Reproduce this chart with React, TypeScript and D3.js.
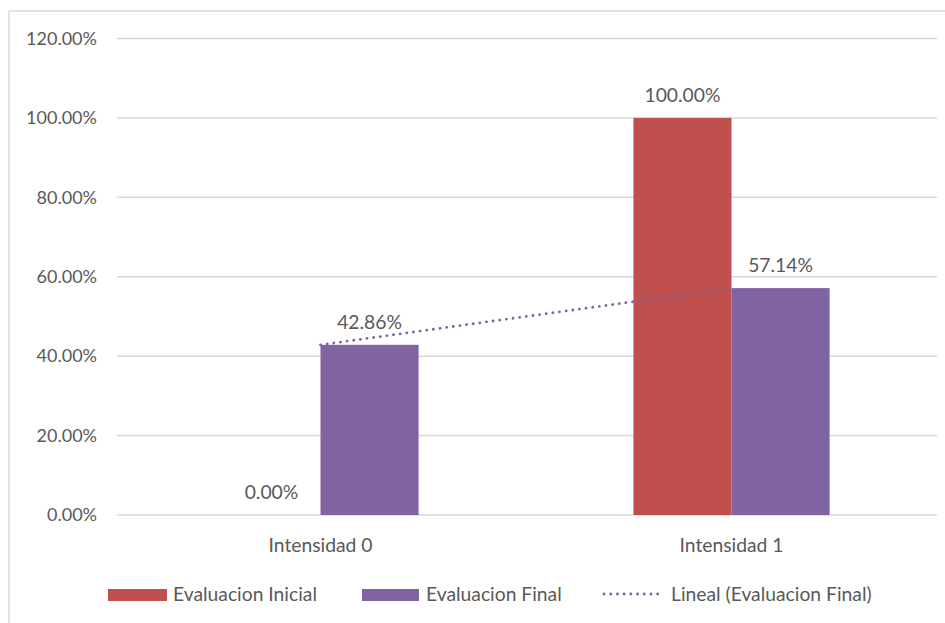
import React from "react";
import * as d3 from "d3";

// Chart data
const categories = ["Intensidad 0", "Intensidad 1"];
const seriesNames = ["Evaluacion Inicial", "Evaluacion Final"];
const inicialValues = [0.0, 1.0];
const finalValues = [0.4286, 0.5714];
const yTicks = [0, 0.2, 0.4, 0.6, 0.8, 1.0, 1.2];
const trendLabel = "Lineal (Evaluacion Final)";

const W = 945;
const H = 623;
const FONT = "Lato, 'Open Sans', sans-serif";
const TEXT = "#595959";
const GRID = "#D9D9D9";
const COLORS = ["#C0504D", "#8064A2"];
const AXIS_FS = 18;
const LABEL_FS = 19.3;

export default function App() {
  const plotLeft = 115;
  const plotRight = 937;
  const plotTop = 38.5;
  const plotBottom = 515;

  const y = d3.scaleLinear().domain([0, 1.2]).range([plotBottom, plotTop]);
  const x0 = d3.scaleBand<string>().domain(categories).range([plotLeft, plotRight]).padding(0);

  // Excel-style gap width of 219% between groups of two bars
  const gap = 2.19;
  const barW = x0.bandwidth() / (2 + gap);
  const groupOffset = (x0.bandwidth() - 2 * barW) / 2;

  const series = [inicialValues, finalValues];
  const fmt = d3.format(".2%");

  // Linear trendline fitted to the final-evaluation series (x = 1..n)
  const xs = finalValues.map((_, i) => i + 1);
  const mx = d3.mean(xs) as number;
  const my = d3.mean(finalValues) as number;
  const slope =
    d3.sum(xs.map((xv, i) => (xv - mx) * (finalValues[i] - my))) /
    d3.sum(xs.map((xv) => (xv - mx) ** 2));
  const intercept = my - slope * mx;
  const trendPts: [number, number][] = xs.map((xv, i) => [
    (x0(categories[i]) as number) + x0.bandwidth() / 2,
    y(intercept + slope * xv),
  ]);
  const trendPath = d3.line()(trendPts) as string;

  const dotDash = "0.1 6.6";

  return (
    <div style={{ position: "fixed", left: 0, top: 0 }}>
      <svg width={W} height={H} style={{ display: "block", background: "#fff" }} fontFamily={FONT}>
        {/* chart frame */}
        <rect x={9} y={11} width={W + 10} height={H + 10} fill="#fff" stroke={GRID} strokeWidth={1.5} />

        {/* gridlines and y tick labels */}
        {yTicks.map((t) => (
          <g key={t}>
            <line x1={117} x2={plotRight} y1={y(t)} y2={y(t)} stroke={GRID} strokeWidth={1.5} />
            <text x={97} y={y(t)} dy="0.35em" textAnchor="end" fontSize={AXIS_FS} fill={TEXT}>
              {fmt(t)}
            </text>
          </g>
        ))}

        {/* bars */}
        {series.map((vals, s) =>
          vals.map((v, i) => {
            const bx = (x0(categories[i]) as number) + groupOffset + s * barW;
            return (
              <rect
                key={`${s}-${i}`}
                x={bx}
                y={y(v)}
                width={barW}
                height={plotBottom - y(v)}
                fill={COLORS[s]}
              />
            );
          })
        )}

        {/* trendline */}
        <path d={trendPath} fill="none" stroke="#8064A2" strokeWidth={2.8} strokeLinecap="round" strokeDasharray={dotDash} />

        {/* data labels */}
        {series.map((vals, s) =>
          vals.map((v, i) => {
            const cx = (x0(categories[i]) as number) + groupOffset + s * barW + barW / 2;
            return (
              <text
                key={`l-${s}-${i}`}
                x={cx}
                y={y(v) - 23}
                dy="0.35em"
                textAnchor="middle"
                fontSize={LABEL_FS}
                fill={TEXT}
              >
                {fmt(v)}
              </text>
            );
          })
        )}

        {/* category labels */}
        {categories.map((c) => (
          <text
            key={c}
            x={(x0(c) as number) + x0.bandwidth() / 2}
            y={545}
            dy="0.35em"
            textAnchor="middle"
            fontSize={LABEL_FS}
            fill={TEXT}
          >
            {c}
          </text>
        ))}

        {/* legend */}
        <g>
          <rect x={108} y={589} width={59} height={12} fill={COLORS[0]} />
          <text x={173} y={594} dy="0.35em" fontSize={LABEL_FS} fill={TEXT}>
            {seriesNames[0]}
          </text>
          <rect x={362} y={589} width={57} height={12} fill={COLORS[1]} />
          <text x={426} y={594} dy="0.35em" fontSize={LABEL_FS} fill={TEXT}>
            {seriesNames[1]}
          </text>
          <line x1={604} x2={660} y1={594} y2={594} stroke="#8064A2" strokeWidth={2.8} strokeLinecap="round" strokeDasharray={dotDash} />
          <text x={671} y={594} dy="0.35em" fontSize={LABEL_FS} fill={TEXT}>
            {trendLabel}
          </text>
        </g>
      </svg>
    </div>
  );
}
